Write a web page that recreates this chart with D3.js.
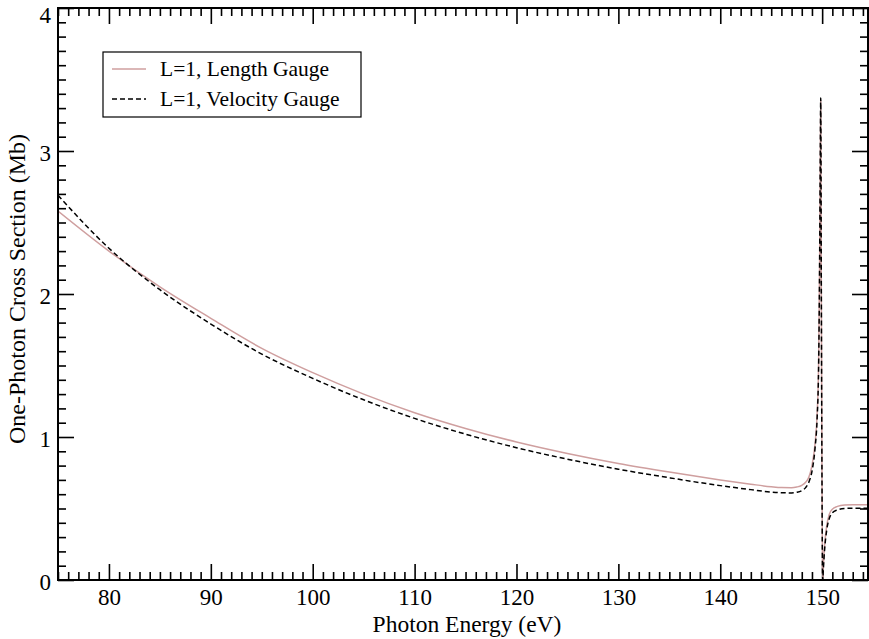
<!DOCTYPE html>
<html>
<head>
<meta charset="utf-8">
<script src="https://cdn.jsdelivr.net/npm/d3@7"></script>
<style>
  html, body { margin: 0; padding: 0; background: #fff; }
  svg { display: block; font-family: "Liberation Serif", "Times New Roman", serif; }
</style>
</head>
<body>
<svg id="chart" width="869" height="639"></svg>
<script>
// ---- data ----
const energyLength = [75, 80, 85, 90, 95, 100, 105, 110, 115, 120, 125, 130, 135, 140, 143, 145, 146, 147, 147.5, 148, 148.4, 148.7, 149.0, 149.3, 149.5, 149.65, 149.75, 149.82, 149.86, 149.92, 149.98, 150.03, 150.06, 150.12, 150.25, 150.45, 150.7, 151.0, 151.5, 152.2, 153.0, 154.5];
const sigmaLength  = [2.58, 2.30, 2.05, 1.83, 1.62, 1.45, 1.30, 1.17, 1.06, 0.965, 0.885, 0.815, 0.755, 0.700, 0.670, 0.652, 0.646, 0.645, 0.650, 0.662, 0.685, 0.72, 0.80, 0.95, 1.15, 1.50, 2.20, 3.00, 3.35, 2.00, 0.80, 0.10, 0.00, 0.10, 0.25, 0.38, 0.46, 0.495, 0.515, 0.525, 0.527, 0.527];

const energyVelocity = [75, 80, 85, 90, 95, 100, 105, 110, 115, 120, 125, 130, 135, 140, 143, 145, 146, 147, 147.5, 148, 148.4, 148.7, 149.0, 149.3, 149.5, 149.65, 149.75, 149.82, 149.86, 149.92, 149.98, 150.03, 150.06, 150.12, 150.25, 150.45, 150.7, 151.0, 151.5, 152.2, 153.0, 154.5];
const sigmaVelocity  = [2.69, 2.32, 2.03, 1.79, 1.58, 1.41, 1.26, 1.13, 1.02, 0.925, 0.845, 0.775, 0.715, 0.660, 0.632, 0.615, 0.610, 0.609, 0.613, 0.625, 0.648, 0.685, 0.76, 0.92, 1.12, 1.48, 2.20, 3.02, 3.37, 2.00, 0.78, 0.08, 0.00, 0.08, 0.22, 0.35, 0.43, 0.47, 0.49, 0.50, 0.502, 0.502];

const seriesNames = ["L=1, Length Gauge", "L=1, Velocity Gauge"];
const xMajorTicks = [80, 90, 100, 110, 120, 130, 140, 150];
const yMajorTicks = [0, 1, 2, 3, 4];
const xLabel = "Photon Energy (eV)";
const yLabel = "One-Photon Cross Section (Mb)";

// ---- layout ----
const svg = d3.select("#chart");
const pL = 58, pT = 8, pR = 868, pB = 580;
const x = d3.scaleLinear().domain([75, 154.5]).range([pL, pR]);
const y = d3.scaleLinear().domain([0, 4]).range([pB, pT]);

const xMinor = d3.range(75, 155, 1).filter(v => v % 10 !== 0);
const yMinor = d3.range(0, 41, 1).filter(i => i % 10 !== 0).map(i => i / 10);

const majorLen = 16, minorLen = 8;
const tickFont = 23;

function styleAxis(g) {
  g.select(".domain").remove();
  g.selectAll(".tick line").attr("stroke", "#000").attr("stroke-width", 1.6);
  g.selectAll(".tick text").attr("font-family", "Liberation Serif, serif").attr("font-size", tickFont).attr("fill", "#000");
}

// bottom
svg.append("g").attr("transform", `translate(0,${pB})`)
  .call(d3.axisBottom(x).tickValues(xMajorTicks).tickSize(-majorLen).tickPadding(9).tickFormat(d3.format("d")))
  .call(styleAxis);
svg.append("g").attr("transform", `translate(0,${pB})`)
  .call(d3.axisBottom(x).tickValues(xMinor).tickSize(-minorLen).tickFormat(""))
  .call(styleAxis);
// top
svg.append("g").attr("transform", `translate(0,${pT})`)
  .call(d3.axisTop(x).tickValues(xMajorTicks).tickSize(-majorLen).tickFormat(""))
  .call(styleAxis);
svg.append("g").attr("transform", `translate(0,${pT})`)
  .call(d3.axisTop(x).tickValues(xMinor).tickSize(-minorLen).tickFormat(""))
  .call(styleAxis);
// left
svg.append("g").attr("transform", `translate(${pL},0)`)
  .call(d3.axisLeft(y).tickValues(yMajorTicks).tickSize(-majorLen).tickPadding(7).tickFormat(d3.format("d")))
  .call(styleAxis)
  .call(g => g.selectAll(".tick text").attr("dy", d => d === 4 ? "0.62em" : "0.4em"));
svg.append("g").attr("transform", `translate(${pL},0)`)
  .call(d3.axisLeft(y).tickValues(yMinor).tickSize(-minorLen).tickFormat(""))
  .call(styleAxis);
// right
svg.append("g").attr("transform", `translate(${pR},0)`)
  .call(d3.axisRight(y).tickValues(yMajorTicks).tickSize(-majorLen).tickFormat(""))
  .call(styleAxis);
svg.append("g").attr("transform", `translate(${pR},0)`)
  .call(d3.axisRight(y).tickValues(yMinor).tickSize(-minorLen).tickFormat(""))
  .call(styleAxis);

// clip
svg.append("clipPath").attr("id", "clip").append("rect")
  .attr("x", pL).attr("y", pT).attr("width", pR - pL).attr("height", pB - pT);

const line = d3.line().x(d => x(d[0])).y(d => y(d[1])).curve(d3.curveMonotoneX);

const lengthData = energyLength.map((e, i) => [e, sigmaLength[i]]);
const velocityData = energyVelocity.map((e, i) => [e, sigmaVelocity[i]]);

const pink = "#cf9f9f";

svg.append("path").datum(lengthData).attr("clip-path", "url(#clip)")
  .attr("d", line).attr("fill", "none").attr("stroke", pink).attr("stroke-width", 1.5);
svg.append("path").datum(velocityData).attr("clip-path", "url(#clip)")
  .attr("d", line).attr("fill", "none").attr("stroke", "#000").attr("stroke-width", 1.5)
  .attr("stroke-dasharray", "5,3");

// frame
svg.append("rect").attr("x", pL).attr("y", pT).attr("width", pR - pL).attr("height", pB - pT)
  .attr("fill", "none").attr("stroke", "#000").attr("stroke-width", 2);

// axis titles
svg.append("text").attr("x", (pL + pR) / 2 + 4).attr("y", 632).attr("text-anchor", "middle")
  .attr("font-size", 23.5).text(xLabel);
svg.append("text").attr("transform", `translate(25,${(pT + pB) / 2 - 5}) rotate(-90)`)
  .attr("text-anchor", "middle").attr("font-size", 24).text(yLabel);

// legend
const lg = svg.append("g");
lg.append("rect").attr("x", 103).attr("y", 52).attr("width", 258).attr("height", 65)
  .attr("fill", "#fff").attr("stroke", "#000").attr("stroke-width", 1.2);
const items = [{name: seriesNames[0], color: pink, dash: null, yy: 69},
               {name: seriesNames[1], color: "#000", dash: "5,3", yy: 99}];
items.forEach(it => {
  lg.append("line").attr("x1", 112).attr("x2", 146).attr("y1", it.yy).attr("y2", it.yy)
    .attr("stroke", it.color).attr("stroke-width", 1.5).attr("stroke-dasharray", it.dash);
  lg.append("text").attr("x", 160).attr("y", it.yy + 7).attr("font-size", 21.5).text(it.name);
});
</script>
</body>
</html>
